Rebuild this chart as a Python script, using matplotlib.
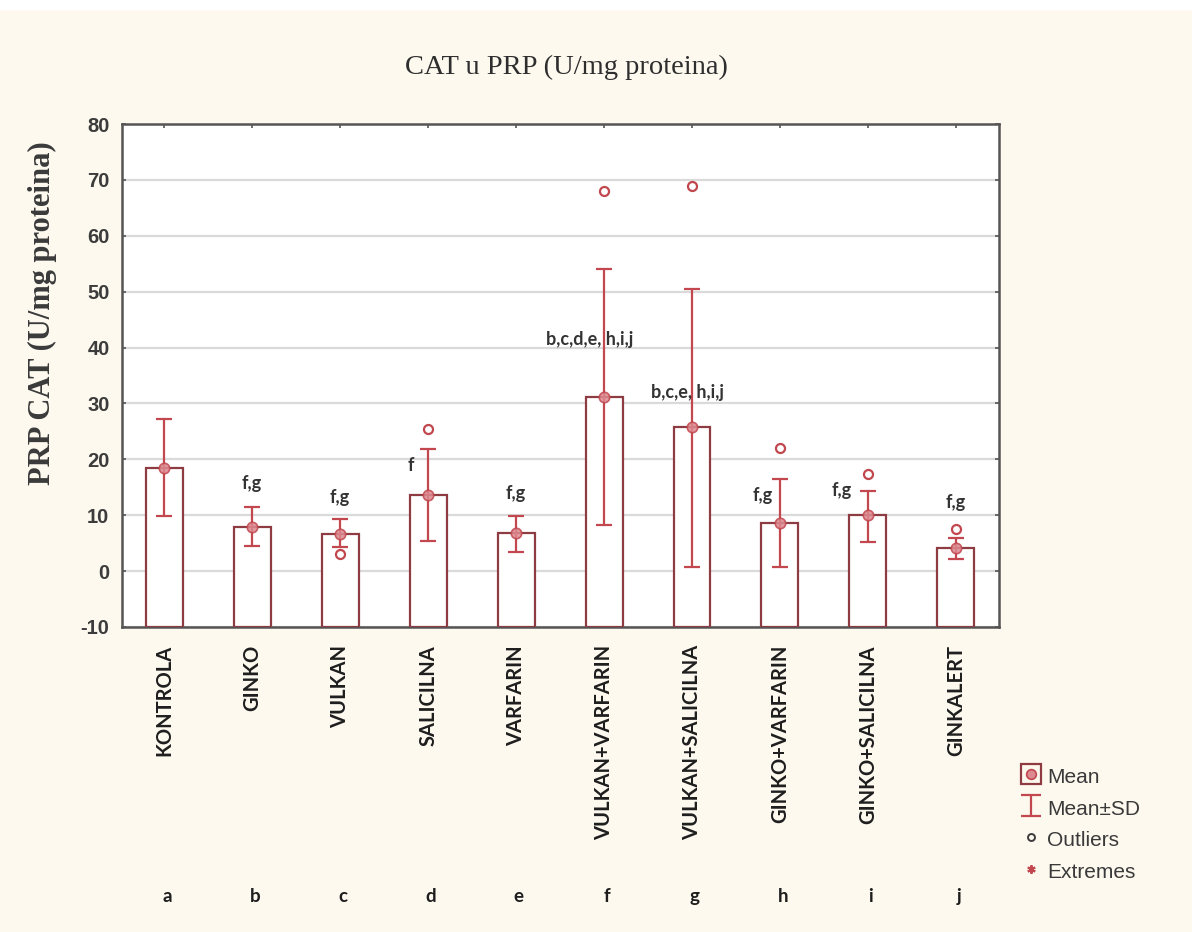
import matplotlib
matplotlib.use("Agg")
import matplotlib.pyplot as plt
import numpy as np
from matplotlib.lines import Line2D
from matplotlib.patches import Rectangle
from matplotlib.legend_handler import HandlerTuple

plt.rcParams["axes.unicode_minus"] = False

# podaci (ocitano sa slike)
grupe = ["KONTROLA", "GINKO", "VULKAN", "SALICILNA", "VARFARIN",
         "VULKAN+VARFARIN", "VULKAN+SALICILNA", "GINKO+VARFARIN",
         "GINKO+SALICILNA", "GINKALERT"]
slova = ["a", "b", "c", "d", "e", "f", "g", "h", "i", "j"]
srednja = [18.5, 7.9, 6.6, 13.7, 6.8, 31.1, 25.7, 8.6, 10.1, 4.1]
sd_gore = [27.3, 11.5, 9.4, 21.9, 9.9, 54.1, 50.4, 16.4, 14.4, 5.9]
sd_dole = [9.9, 4.5, 4.4, 5.4, 3.4, 8.3, 0.7, 0.7, 5.2, 2.2]
outlier_grupa = [2, 3, 5, 6, 7, 8, 9]
outlier_vrednost = [3.0, 25.4, 68.0, 68.9, 22.1, 17.4, 7.6]
znacajnost = ["", "f,g", "f,g", "f", "f,g", "b,c,d,e, h,i,j",
              "b,c,e, h,i,j", "f,g", "f,g", "f,g"]

# raspored oznaka znacajnosti (x pomeraj, y)
oznake_pos = [(0, 0), (0.0, 15.6), (0.0, 13.1), (-0.2, 18.9), (0.0, 13.8),
              (-0.16, 41.4), (-0.05, 32.0), (-0.2, 13.5), (-0.3, 14.4), (0.0, 12.2)]

krem = "#fdf9ef"
tamno_crvena = "#8e3b42"
crvena = "#c2474f"
siva = "#3c3c3c"
ymin, ymax = -10, 80

fig = plt.figure(figsize=(11.92, 9.32), dpi=100, facecolor=krem)
fig.patches.append(Rectangle((0, 1 - 10 / 932), 1, 10 / 932, transform=fig.transFigure,
                             facecolor="white", edgecolor="none", zorder=0))
ax = fig.add_axes([122 / 1192, 1 - 627 / 932, 877 / 1192, 503 / 932])
ax.set_facecolor("white")

x = np.arange(len(grupe))
sr = np.array(srednja)
ax.bar(x, sr - ymin, bottom=ymin, width=0.42, facecolor="white",
       edgecolor=tamno_crvena, linewidth=1.6, zorder=3)
ax.errorbar(x, sr, yerr=[sr - np.array(sd_dole), np.array(sd_gore) - sr],
            fmt="none", ecolor=crvena, elinewidth=1.6, capsize=6, capthick=1.6, zorder=4)
ax.plot(x, sr, "o", ms=7.5, mfc="#dc8a90", mec=crvena, mew=1.2, alpha=0.85, zorder=5)
ax.plot(np.array(outlier_grupa), outlier_vrednost, "o", ms=6.5, mfc="none",
        mec=crvena, mew=1.6, zorder=5)

for i, txt in enumerate(znacajnost):
    if txt:
        dx, yy = oznake_pos[i]
        ax.text(i + dx, yy, txt, ha="center", va="center", fontsize=13,
                fontweight="bold", family="Lato", color="#333333", zorder=6)

ax.set_xlim(-0.48, 9.49)
ax.set_ylim(ymin, ymax)
ax.set_yticks(np.arange(-10, 81, 10))
ax.set_xticks(x)
ax.set_xticklabels([])
ax.yaxis.grid(True, color="#dadada", linewidth=1.6, zorder=0)
ax.set_axisbelow(True)
ax.tick_params(axis="y", direction="in", length=3, width=1.2, color="#555555",
               right=True, labelsize=14.5, labelcolor=siva, pad=9)
ax.tick_params(axis="x", direction="in", length=3, width=1.2, color="#555555", top=True)
for lbl in ax.get_yticklabels():
    lbl.set_fontweight("bold")
    lbl.set_family("Liberation Sans")
for s in ax.spines.values():
    s.set_color("#555555")
    s.set_linewidth(1.8)

# nazivi grupa (rotirani) i slova ispod
for i, (g, s) in enumerate(zip(grupe, slova)):
    ax.annotate(g, xy=(i, 0), xycoords=("data", "axes fraction"), xytext=(0, -13),
                textcoords="offset points", rotation=90, ha="center", va="top",
                fontsize=14.5, fontweight="bold", family="Lato", color="#1e1e1e")
    ax.annotate(s, xy=(i, 0), xycoords=("data", "axes fraction"), xytext=(2, -194),
                textcoords="offset points", ha="center", va="center",
                fontsize=13.5, fontweight="bold", family="Lato", color="#1e1e1e")

fig.text(566 / 1192, 1 - 67 / 932, "CAT u PRP (U/mg proteina)", ha="center", va="center",
         fontsize=20.5, family="Liberation Serif", color="#2e2e2e")
fig.text(42 / 1192, 1 - 313 / 932, "PRP CAT (U/mg proteina)", ha="center", va="center",
         rotation=90, fontsize=22, fontweight="bold", family="Liberation Serif", color="#3a3a3a")

# legenda
h_mean = (Line2D([], [], marker="s", ms=15, mfc="none", mec=tamno_crvena, mew=1.6, ls="none"),
          Line2D([], [], marker="o", ms=7, mfc="#dc8a90", mec=crvena, mew=1.2, ls="none"))
h_sd = ax.errorbar([np.nan], [np.nan], yerr=[[1], [1]], fmt="none", ecolor=crvena,
                   elinewidth=1.6, capsize=7, capthick=1.6)
h_out = Line2D([], [], marker="o", ms=5, mfc="none", mec=siva, mew=1.4, ls="none")
h_ext = Line2D([], [], marker=(6, 2, 0), ms=6, color=crvena, mew=1.5, ls="none")
fig.legend([h_mean, h_sd, h_out, h_ext], ["Mean", "Mean±SD", "Outliers", "Extremes"],
           handler_map={tuple: HandlerTuple(ndivide=1, pad=0)},
           loc="upper left", bbox_to_anchor=(1012 / 1192, 1 - 757 / 932), frameon=False,
           prop={"family": "Liberation Sans", "size": 15}, labelcolor="#3a3a3a",
           handlelength=1.0, handleheight=1.25, handletextpad=0.3, labelspacing=0.45,
           borderaxespad=0)

fig.savefig("out.png", dpi=100, facecolor=krem)
